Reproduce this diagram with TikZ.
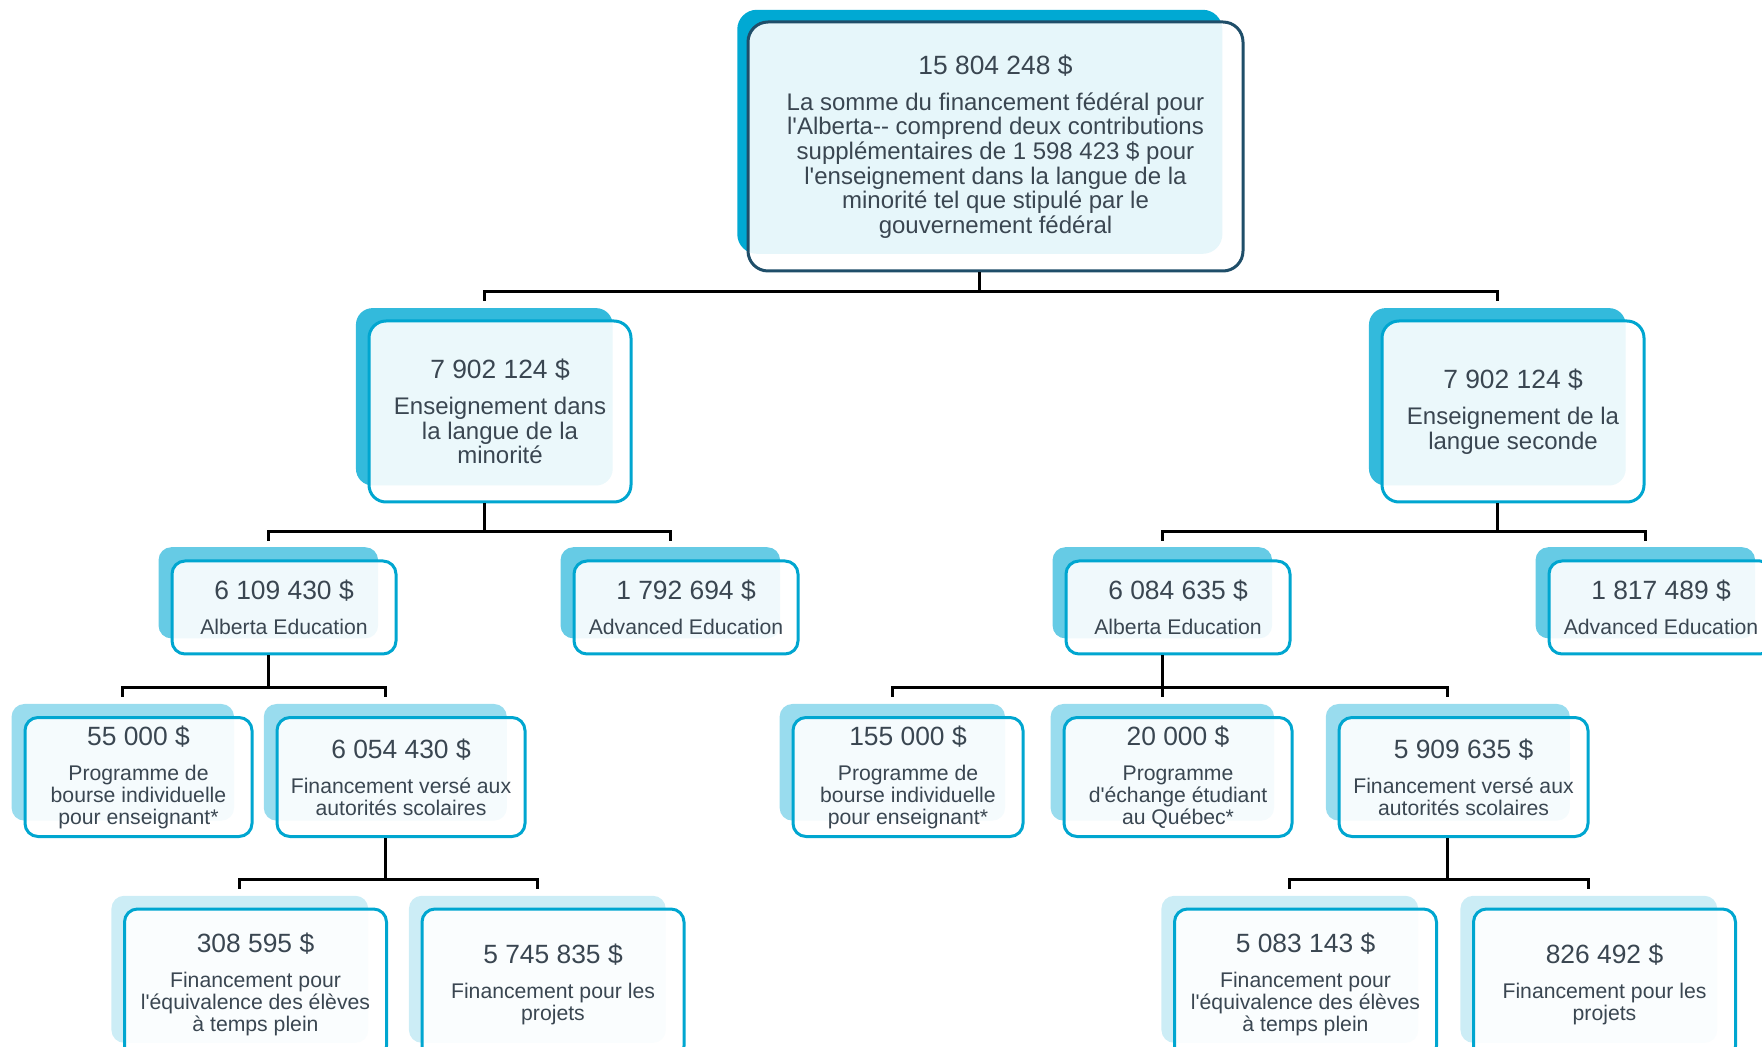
\documentclass[tikz,border=0pt]{standalone}
\usepackage{fontspec}
\setmainfont{Liberation Sans}[Ligatures=TeXOff]
\usetikzlibrary{shadows}

\definecolor{ink}{HTML}{3A4651}
\definecolor{topline}{HTML}{1F4E69}
\definecolor{rim}{HTML}{00A6D0}
\definecolor{shadeA}{HTML}{00A9D3}
\definecolor{shadeB}{HTML}{33BADC}
\definecolor{shadeC}{HTML}{66CBE5}
\definecolor{shadeD}{HTML}{99DCEE}
\definecolor{shadeE}{HTML}{CCEDF6}

\newcommand{\amt}[1]{{\fontsize{13.2}{14}\selectfont #1 \$}}

\tikzset{
	box/.style={draw=rim, line width=1.5pt, rounded corners=6.5pt, fill=white, fill opacity=0.9, text opacity=1, text=ink, align=center, inner sep=0pt},
	back/.style={copy shadow={shadow xshift=-8pt, shadow yshift=7.5pt, shadow scale=0.98, fill=#1, draw=none, fill opacity=1}},
	lvlA/.style={box, back=shadeA, draw=topline, rounded corners=10pt, minimum width=247.5pt, minimum height=124.5pt, font=\fontsize{12}{12.35}\selectfont},
	lvlB/.style={box, back=shadeB, rounded corners=8.5pt, minimum width=131pt, minimum height=90.5pt, font=\fontsize{12}{12.35}\selectfont},
	lvlC/.style={box, back=shadeC, minimum width=112pt, minimum height=46.5pt, font=\fontsize{10.6}{10.6}\selectfont},
	lvlD/.style={box, back=shadeD, minimum height=59.5pt, font=\fontsize{10.6}{11}\selectfont},
	lvlE/.style={box, back=shadeE, minimum width=131pt, minimum height=75pt, font=\fontsize{10.6}{11}\selectfont},
	link/.style={draw=black, line width=1.5pt}
}

\begin{document}
\begin{tikzpicture}[x=0.5pt, y=-0.5pt]
	\useasboundingbox (0,0) rectangle (1762,1047);
	% total
	\node[lvlA] (tot) at (995.5,146.5) {\amt{15 804 248}\\[5.65pt]
		La somme du financement fédéral pour\\l'Alberta-{}- comprend deux contributions\\supplémentaires de 1 598 423 \$ pour\\l'enseignement dans la langue de la\\minorité tel que stipulé par le\\gouvernement fédéral};
	% langue de la minorite / langue seconde
	\begin{scope}[every node/.style={lvlB}]
		\node (minor) at (500,411.5) {\amt{7 902 124}\\[5.65pt]Enseignement dans\\la langue de la\\minorité};
		\node (second) at (1513,411.5) {\amt{7 902 124}\\[5.65pt]Enseignement de la\\langue seconde};
	\end{scope}
	\begin{scope}[every node/.style={lvlC}]
		\node (mab) at (284,607.5) {\amt{6 109 430}\\[6.9pt]Alberta Education};
		\node (mae) at (686,607.5) {\amt{1 792 694}\\[6.9pt]Advanced Education};
		\node (sab) at (1178,607.5) {\amt{6 084 635}\\[6.9pt]Alberta Education};
		\node (sae) at (1661,607.5) {\amt{1 817 489}\\[6.9pt]Advanced Education};
	\end{scope}
	\begin{scope}[every node/.style={lvlD}]
		\node[minimum width=113.5pt] (mbourse) at (138.5,777) {\amt{55 000}\\[6.5pt]Programme de\\bourse individuelle\\pour enseignant*};
		\node[minimum width=124pt] (mauto) at (401,777) {\amt{6 054 430}\\[6.5pt]Financement versé aux\\autorités scolaires};
		\node[minimum width=115pt] (sbourse) at (908,777) {\amt{155 000}\\[6.5pt]Programme de\\bourse individuelle\\pour enseignant*};
		\node[minimum width=114pt] (sechange) at (1178,777) {\amt{20 000}\\[6.5pt]Programme\\d'échange étudiant\\au Québec*};
		\node[minimum width=124.5pt] (sauto) at (1463.5,777) {\amt{5 909 635}\\[6.5pt]Financement versé aux\\autorités scolaires};
	\end{scope}
	\begin{scope}[every node/.style={lvlE}]
		\node (mequiv) at (255.5,984) {\amt{308 595}\\[6.5pt]Financement pour\\l'équivalence des élèves\\à temps plein};
		\node (mproj) at (553,984) {\amt{5 745 835}\\[6.5pt]Financement pour les\\projets};
		\node (sequiv) at (1305.5,984) {\amt{5 083 143}\\[6.5pt]Financement pour\\l'équivalence des élèves\\à temps plein};
		\node (sproj) at (1604.5,984) {\amt{826 492}\\[6.5pt]Financement pour les\\projets};
	\end{scope}
	% liens
	\foreach \p/\c in {tot/minor, tot/second, minor/mab, minor/mae, second/sab, second/sae, mab/mbourse, mab/mauto, sab/sbourse, sab/sechange, sab/sauto, mauto/mequiv, mauto/mproj, sauto/sequiv, sauto/sproj}
		\draw[link] ([xshift=-8pt]\p.south) |- ([xshift=-8pt,yshift=14pt]\c.north) -- ([xshift=-8pt,yshift=9.25pt]\c.north);
\end{tikzpicture}
\end{document}
